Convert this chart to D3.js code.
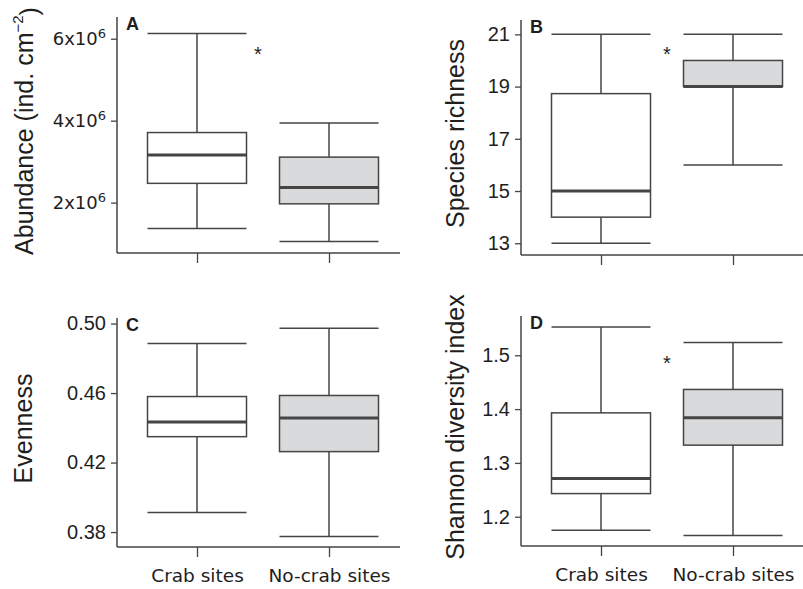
<!DOCTYPE html>
<html>
<head>
<meta charset="utf-8">
<script src="https://cdn.jsdelivr.net/npm/d3@7/dist/d3.min.js"></script>
<style>
  body { margin: 0; background: #fff; }
  svg { display: block; }
</style>
</head>
<body>
<svg id="chart" width="803" height="589"></svg>
<script>
// Site types compared in every panel
const groups = ["Crab sites", "No-crab sites"];

// Box summaries per site type: [lower whisker, Q1, median, Q3, upper whisker]
const abundance = [[1.37e6, 2.47e6, 3.16e6, 3.71e6, 6.13e6], [1.05e6, 1.97e6, 2.37e6, 3.11e6, 3.94e6]];
const richness  = [[13, 14, 15, 18.73, 21], [16, 19, 19, 20, 21]];
const evenness  = [[0.3912, 0.4349, 0.4434, 0.458, 0.4885], [0.3775, 0.4263, 0.4457, 0.4586, 0.4973]];
const shannon   = [[1.175, 1.243, 1.271, 1.393, 1.5525], [1.165, 1.333, 1.384, 1.4365, 1.5236]];

// Axis extents and tick values
const abundanceDomain = [0.77e6, 6.53e6];
const richnessDomain  = [12.55, 21.55];
const evennessDomain  = [0.3714, 0.5032];
const shannonDomain   = [1.1456, 1.573];
const abundanceTicks = [2e6, 4e6, 6e6];
const richnessTicks  = [13, 15, 17, 19, 21];
const evennessTicks  = [0.38, 0.42, 0.46, 0.50];
const shannonTicks   = [1.2, 1.3, 1.4, 1.5];

const panelLetters = ["A", "B", "C", "D"];
const yTitles = ["Abundance (ind. cm", "Species richness", "Evenness", "Shannon diversity index"];
// Height at which the significance asterisk sits (null = none)
const significance = [5.72e6, 20.4, null, 1.494];

const panels = [
  { stats: abundance, domain: abundanceDomain, ticks: abundanceTicks, sci: true,
    left: 117, top: 17, bottom: 253, titleX: 24, starDx: -5, xLabels: false },
  { stats: richness, domain: richnessDomain, ticks: richnessTicks, fmt: d3.format("d"),
    left: 521, top: 20, bottom: 255, titleX: 455, starDx: 0, xLabels: false },
  { stats: evenness, domain: evennessDomain, ticks: evennessTicks, fmt: d3.format(".2f"),
    left: 117, top: 318, bottom: 547, titleX: 23, starDx: 0, xLabels: true },
  { stats: shannon, domain: shannonDomain, ticks: shannonTicks, fmt: d3.format(".1f"),
    left: 521, top: 316, bottom: 546, titleX: 455, starDx: 0, xLabels: true }
];

const ink = "#454545";
const textInk = "#1e1e1e";
const fills = ["#ffffff", "#d9dadc"];
const axisLen = 283;
const boxW = 99;
const sansA = "'Liberation Sans', Arial, Helvetica, sans-serif";
const sansD = "'DejaVu Sans', Verdana, sans-serif";

const svg = d3.select("#chart");

panels.forEach((p, i) => {
  const g = svg.append("g").attr("transform", `translate(${p.left},0)`);
  const x = d3.scalePoint().domain(groups).range([80, 212]);
  const y = d3.scaleLinear().domain(p.domain).range([p.bottom, p.top]);

  // y axis
  const yAxis = d3.axisLeft(y).tickValues(p.ticks).tickSize(6).tickPadding(5);
  if (!p.sci) yAxis.tickFormat(p.fmt);
  const ya = g.append("g").call(yAxis);
  ya.select(".domain").remove();
  ya.selectAll(".tick line").attr("stroke", ink).attr("stroke-width", 1.3);
  ya.selectAll(".tick text")
    .attr("fill", textInk)
    .style("font-family", p.sci ? sansD : sansA)
    .style("font-size", p.sci ? "18px" : "20px");
  if (p.sci) {
    ya.selectAll(".tick text").text(null).each(function (d) {
      const exp = Math.floor(Math.log10(d));
      const mant = Math.round(d / Math.pow(10, exp));
      const t = d3.select(this);
      t.append("tspan").text(`${mant}x10`);
      t.append("tspan").attr("dy", "-0.55em").style("font-size", "13px").text(exp);
    });
  }

  // axis lines
  g.append("line").attr("x1", 0).attr("x2", 0).attr("y1", p.top).attr("y2", p.bottom)
    .attr("stroke", ink).attr("stroke-width", 1.5);
  g.append("line").attr("x1", 0).attr("x2", axisLen).attr("y1", p.bottom).attr("y2", p.bottom)
    .attr("stroke", ink).attr("stroke-width", 1.5);

  // x axis ticks (+ labels on bottom row)
  const xAxis = d3.axisBottom(x).tickSize(10).tickPadding(12);
  if (!p.xLabels) xAxis.tickFormat("");
  const xa = g.append("g").attr("transform", `translate(0,${p.bottom})`).call(xAxis);
  xa.select(".domain").remove();
  xa.selectAll(".tick line").attr("stroke", ink).attr("stroke-width", 1.3);
  xa.selectAll(".tick text").attr("fill", textInk)
    .style("font-family", sansD).style("font-size", "18.5px");

  // boxes
  const box = g.selectAll(".box").data(p.stats).join("g").attr("class", "box")
    .attr("transform", (d, j) => `translate(${x(groups[j])},0)`);
  box.append("line").attr("x1", 0).attr("x2", 0)
    .attr("y1", d => y(d[0])).attr("y2", d => y(d[4]))
    .attr("stroke", ink).attr("stroke-width", 1.5);
  box.selectAll(".cap").data(d => [d[0], d[4]]).join("line").attr("class", "cap")
    .attr("x1", -boxW / 2).attr("x2", boxW / 2)
    .attr("y1", v => y(v)).attr("y2", v => y(v))
    .attr("stroke", ink).attr("stroke-width", 1.5);
  box.append("rect")
    .attr("x", -boxW / 2).attr("width", boxW)
    .attr("y", d => y(d[3])).attr("height", d => y(d[1]) - y(d[3]))
    .attr("fill", (d, j) => fills[j]).attr("stroke", ink).attr("stroke-width", 1.5);
  box.append("line")
    .attr("x1", -boxW / 2).attr("x2", boxW / 2)
    .attr("y1", d => y(d[2])).attr("y2", d => y(d[2]))
    .attr("stroke", ink).attr("stroke-width", 3);

  // panel letter
  g.append("text").attr("x", 9).attr("y", p.top + 12.5)
    .attr("fill", textInk).style("font-family", sansA).style("font-weight", "bold")
    .style("font-size", "18px").text(panelLetters[i]);

  // significance asterisk
  if (significance[i] !== null) {
    g.append("text")
      .attr("x", (x(groups[0]) + x(groups[1])) / 2 + p.starDx)
      .attr("y", y(significance[i]) + 11)
      .attr("text-anchor", "middle")
      .attr("fill", textInk).style("font-family", sansA).style("font-size", "20px")
      .text("*");
  }

  // y title
  const ty = (p.top + p.bottom) / 2 - 4;
  const title = svg.append("text")
    .attr("transform", `translate(${p.titleX},${ty}) rotate(-90)`)
    .attr("text-anchor", "middle").attr("dominant-baseline", "central")
    .attr("fill", textInk).style("font-family", sansA).style("font-size", "25px");
  title.append("tspan").text(yTitles[i]);
  if (p.sci) {
    title.append("tspan").attr("dy", "-0.5em").style("font-size", "15px").text("\u22122");
    title.append("tspan").attr("dy", "0.5em").text(")");
  }
});
</script>
</body>
</html>
